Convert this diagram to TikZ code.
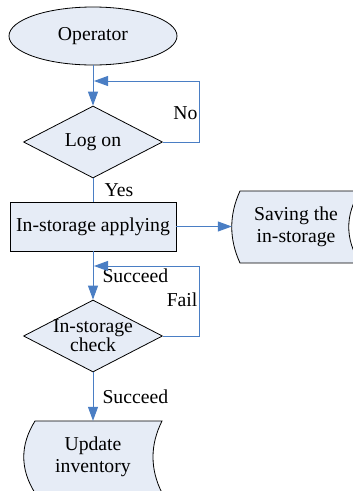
\documentclass[tikz,border=0pt]{standalone}
\usepackage{fontspec}
\setmainfont{Liberation Serif}
\usetikzlibrary{shapes.geometric,arrows.meta,positioning}
\definecolor{boxfill}{HTML}{E6ECF6}
\definecolor{flowblue}{HTML}{4A7EC4}
\begin{document}
\begin{tikzpicture}[x=1pt, y=-1pt,
		font=\fontsize{19.7}{22}\selectfont,
		startnode/.style={ellipse, draw, line width=0.8pt, fill=boxfill, minimum width=168pt, minimum height=58pt},
		decision/.style={diamond, draw, line width=0.8pt, fill=boxfill, minimum width=139pt, minimum height=72pt, inner sep=0pt},
		process/.style={rectangle, draw, line width=0.8pt, fill=boxfill, minimum width=166pt, minimum height=49pt},
		storetext/.style={align=center, inner sep=0pt, minimum height=72pt},
		storeshape/.style={draw, line width=0.8pt, fill=boxfill},
		flow/.style={flowblue, line width=1pt, -{Triangle[length=14pt,width=10pt]}},
		plain/.style={flowblue, line width=1pt},
		lbl/.style={inner sep=2pt, text=black}]
		\useasboundingbox (0,0) rectangle (353,491);
		\clip (0,0) rectangle (353,491);
		
		% stored data shapes
		\draw[storeshape] (240,191) -- (360,191) .. controls (345,215) and (345,239) .. (360,263) -- (240,263) .. controls (229,239) and (229,215) .. (240,191) -- cycle;
		\draw[storeshape] (35,421) -- (162,421) .. controls (150,445) and (150,469) .. (162,493) -- (35,493) .. controls (20,469) and (20,445) .. (35,421) -- cycle;
		
		\node (operator) [startnode] at (93,36) {Operator};
		\node (logon) [decision, node distance=106pt, below of=operator, label={[name=logontext]center:Log on}] {};
		\node (apply) [process, node distance=84.5pt, below of=logon] {In-storage applying};
		\node (saving) [storetext, minimum width=128pt, node distance=203pt, right of=apply] {Saving the\\in-storage};
		\node (check) [decision, node distance=109.5pt, below of=apply, label={[name=checktext, align=center, font=\fontsize{19.7}{19}\selectfont]center:In-storage\\check}] {};
		\node (update) [storetext, minimum width=120pt, node distance=121pt, below of=check] {Update\\inventory};
		
		\coordinate (j1) at (94,81);
		\coordinate (j2) at (94,266);
		
		\draw[flow] (operator) -- (logon);
		\draw[flow] (logon.east) -- ++(37,0) |- node[lbl, pos=0.24, left] (lno) {No} (j1);
		\draw[plain] (logon) -- node[lbl, right=9pt] (lyes) {Yes} (apply);
		\draw[flow] (apply) -- (saving);
		\draw[flow] (apply) -- node[lbl, right=7pt] (lsucc1) {Succeed} (check);
		\draw[flow] (check.east) -- ++(37,0) |- node[lbl, pos=0.26, left] (lfail) {Fail} (j2);
		\draw[flow] (check) -- node[lbl, right=7pt] (lsucc2) {Succeed} (update);
	\end{tikzpicture}
\end{document}
